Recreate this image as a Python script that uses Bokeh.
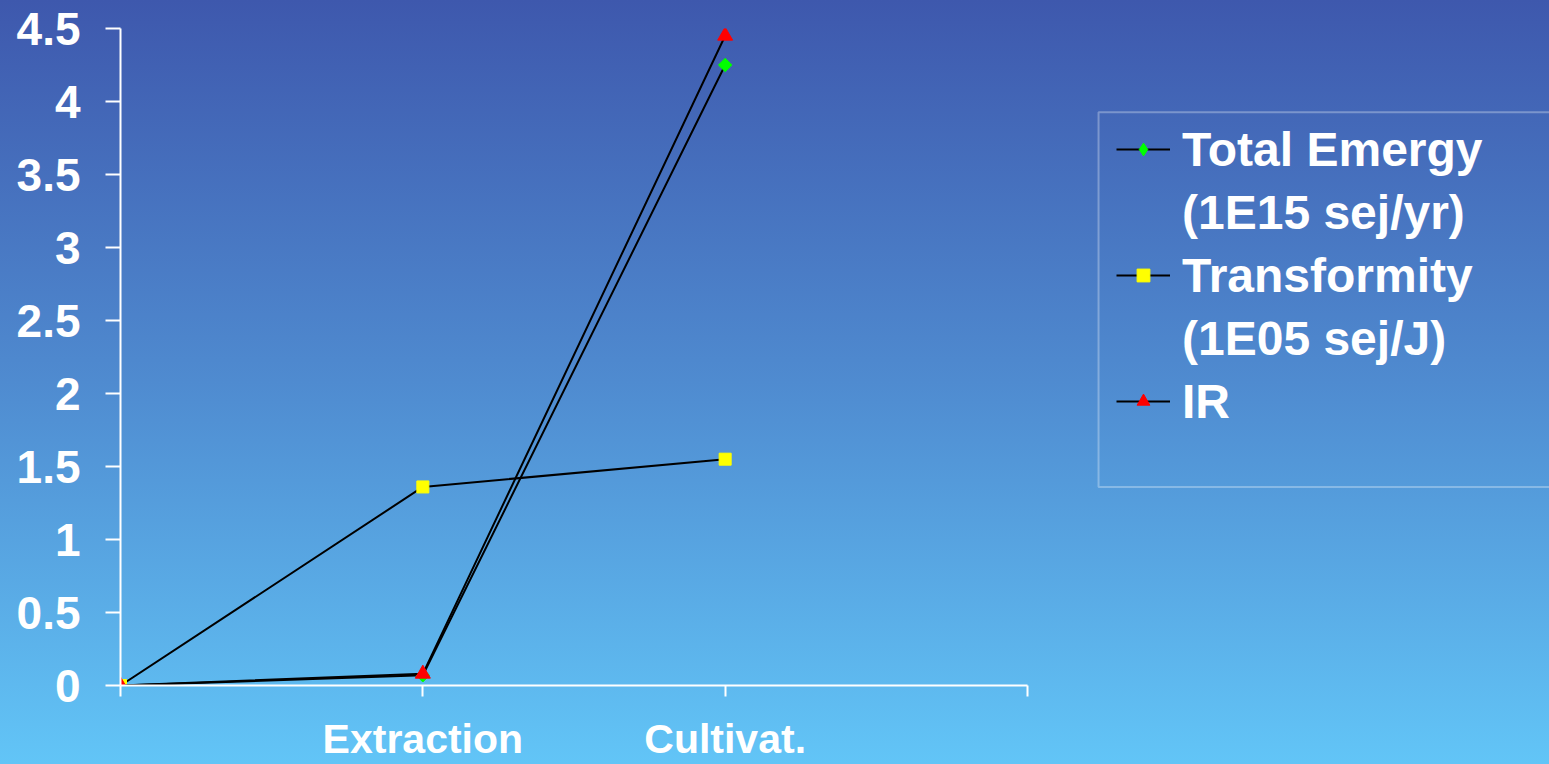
import numpy as np
from bokeh.plotting import figure
from bokeh.models import Range1d, FixedTicker, Legend, LegendItem, BoxAnnotation
from bokeh.embed import file_html
from bokeh.resources import INLINE

# Production stages along the x axis (first and last positions are unlabelled)
x_ticks = [0, 1, 2, 3]
x_tick_labels = ["", "Extraction", "Cultivat.", ""]
stage_x = [0, 1, 2]

# Series values per stage
total_emergy = [0.0, 0.07, 4.25]   # 1E15 sej/yr
transformity = [0.0, 1.36, 1.55]   # 1E05 sej/J
ir = [0.0, 0.08, 4.45]

y_ticks = [0.0, 0.5, 1.0, 1.5, 2.0, 2.5, 3.0, 3.5, 4.0, 4.5]
y_tick_labels = ["0", "0.5", "1", "1.5", "2", "2.5", "3", "3.5", "4", "4.5"]

FONT = "Liberation Sans"
WHITE = "#ffffff"
GREEN, YELLOW, RED = "#00ff00", "#ffff00", "#ff0000"

# The frame runs to the right edge so the legend sits inside it; the x axis
# itself is bounded to the four category positions.
p = figure(
    width=1549, height=764,
    x_range=Range1d(0.0, 4.7266), y_range=Range1d(0.0, 4.5),
    output_backend="svg", toolbar_location=None,
    min_border_left=120, min_border_right=0,
    min_border_top=28, min_border_bottom=77,
)
p.styles = {"background": "linear-gradient(180deg, #3e58ad 0%, #4f8bd0 50%, #62c5f7 100%)"}
p.background_fill_alpha = 0
p.border_fill_alpha = 0
p.outline_line_color = None
p.xgrid.visible = False
p.ygrid.visible = False

# Axes
p.yaxis.ticker = FixedTicker(ticks=y_ticks)
p.yaxis.major_label_overrides = dict(zip(y_ticks, y_tick_labels))
p.yaxis.major_tick_out = 15
p.yaxis.major_tick_in = 0
p.yaxis.major_label_standoff = 25
p.yaxis.major_label_text_font_size = "46px"

p.xaxis.bounds = (0, 3)
p.xaxis.ticker = FixedTicker(ticks=x_ticks)
p.xaxis.major_label_overrides = dict(zip(x_ticks, x_tick_labels))
p.xaxis.major_tick_out = 11
p.xaxis.major_tick_in = 0
p.xaxis.major_label_standoff = 19
p.xaxis.major_label_text_font_size = "41px"

for ax in (p.xaxis, p.yaxis):
    ax.axis_line_color = WHITE
    ax.axis_line_width = 2
    ax.major_tick_line_color = WHITE
    ax.major_tick_line_width = 2
    ax.minor_tick_line_color = None
    ax.major_label_text_color = WHITE
    ax.major_label_text_font = FONT
    ax.major_label_text_font_style = "bold"

# Series
l1 = p.line(stage_x, total_emergy, line_color="black", line_width=2)
# a diamond underneath the rotated square supplies the legend key
# (legend keys are always drawn unrotated)
k1 = p.scatter(stage_x, total_emergy, marker="diamond", size=11,
               fill_color=GREEN, line_color=GREEN)
s1 = p.scatter(stage_x, total_emergy, marker="square", angle=np.pi / 4, size=9.5,
               fill_color=GREEN, line_color=GREEN)
l2 = p.line(stage_x, transformity, line_color="black", line_width=2)
s2 = p.scatter(stage_x, transformity, marker="square", size=12,
               fill_color=YELLOW, line_color=YELLOW)
l3 = p.line(stage_x, ir, line_color="black", line_width=2)
s3 = p.scatter(stage_x, ir, marker="triangle", size=15,
               fill_color=RED, line_color=RED)

# Empty key for the second line of the two-line labels
blank = p.line(x=[], y=[], line_alpha=0)

# Legend frame (data units of this plot)
p.add_layout(BoxAnnotation(
    left=3.235, right=5.0, bottom=1.359, top=3.926,
    fill_alpha=0, line_color=WHITE, line_width=2,
))

# Legend entries
leg = Legend(
    items=[
        LegendItem(label="Total Emergy", renderers=[l1, k1]),
        LegendItem(label="(1E15 sej/yr)", renderers=[blank]),
        LegendItem(label="Transformity", renderers=[l2, s2]),
        LegendItem(label="(1E05 sej/J)", renderers=[blank]),
        LegendItem(label="IR", renderers=[l3, s3]),
    ],
    location=(996, 256), padding=0, spacing=7, margin=0,
    glyph_width=54, glyph_height=32, label_standoff=12,
    label_height=56,
    label_text_font=FONT, label_text_font_style="bold",
    label_text_font_size="48px", label_text_color=WHITE,
    border_line_alpha=0, background_fill_alpha=0,
)
p.add_layout(leg)

open("out.html", "w").write(file_html(p, INLINE))
